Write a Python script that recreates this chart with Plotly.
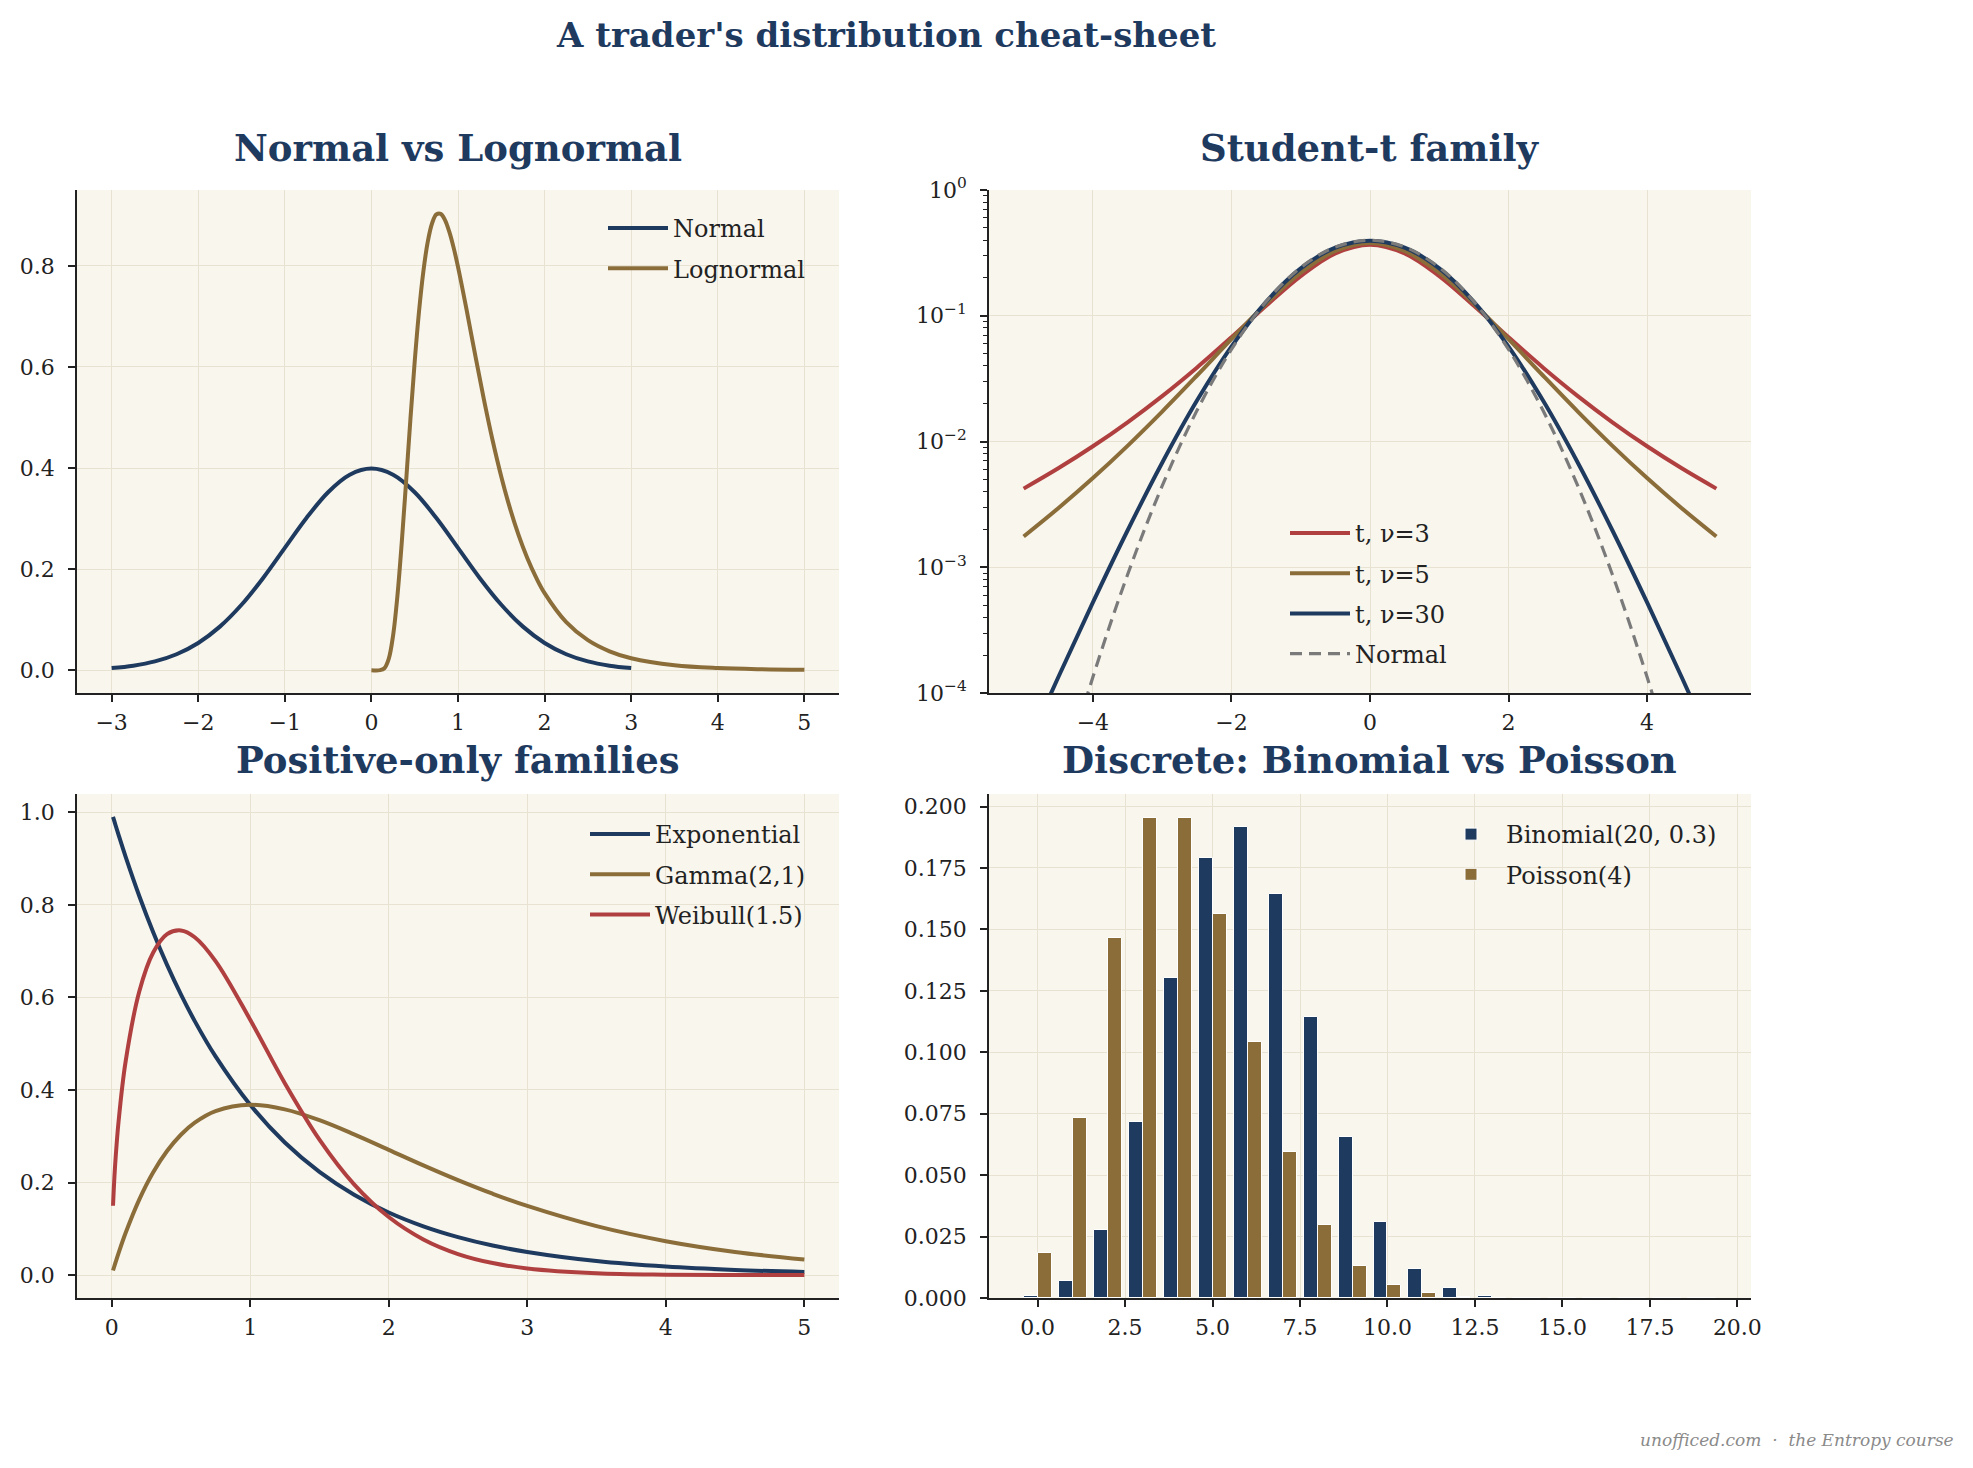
import plotly.graph_objects as go
from plotly.subplots import make_subplots

# ---------------- data ----------------
normal_x = [-3.0, -2.75, -2.5, -2.25, -2.0, -1.75, -1.5, -1.25, -1.0, -0.75, -0.5, -0.25, 0.0,
            0.25, 0.5, 0.75, 1.0, 1.25, 1.5, 1.75, 2.0, 2.25, 2.5, 2.75, 3.0]
normal_y = [0.0044, 0.0091, 0.0175, 0.0317, 0.0540, 0.0863, 0.1295, 0.1826, 0.2420, 0.3011, 0.3521, 0.3867, 0.3989,
            0.3867, 0.3521, 0.3011, 0.2420, 0.1826, 0.1295, 0.0863, 0.0540, 0.0317, 0.0175, 0.0091, 0.0044]

lognorm_x = [0.0, 0.1, 0.15, 0.2, 0.25, 0.3, 0.35, 0.4, 0.45, 0.5, 0.55, 0.6, 0.65, 0.7, 0.75, 0.8, 0.85, 0.9,
             0.95, 1.0, 1.1, 1.2, 1.3, 1.4, 1.5, 1.6, 1.7, 1.8, 1.9, 2.0, 2.25, 2.5, 2.75, 3.0, 3.5, 4.0, 4.5, 5.0]
lognorm_y = [0.0, 0.0002, 0.0040, 0.0225, 0.0684, 0.1465, 0.2517, 0.3720, 0.4954, 0.6104, 0.7099, 0.7890, 0.8469,
             0.8838, 0.9016, 0.9028, 0.8904, 0.8670, 0.8355, 0.7979, 0.7123, 0.6222, 0.5349, 0.4545, 0.3829, 0.3206,
             0.2673, 0.2221, 0.1842, 0.1526, 0.0952, 0.0595, 0.0375, 0.0238, 0.0099, 0.0043, 0.0019, 0.0009]

t_x = [-5.0, -4.5, -4.0, -3.5, -3.0, -2.5, -2.0, -1.5, -1.0, -0.5, 0.0,
       0.5, 1.0, 1.5, 2.0, 2.5, 3.0, 3.5, 4.0, 4.5, 5.0]
t3_y = [0.00422, 0.00612, 0.00916, 0.01422, 0.02297, 0.03866, 0.0675, 0.1200, 0.2067, 0.3132, 0.3676,
        0.3132, 0.2067, 0.1200, 0.0675, 0.03866, 0.02297, 0.01422, 0.00916, 0.00612, 0.00422]
t5_y = [0.001757, 0.002948, 0.00512, 0.00924, 0.01729, 0.03333, 0.0651, 0.1245, 0.2197, 0.3279, 0.3796,
        0.3279, 0.2197, 0.1245, 0.0651, 0.03333, 0.01729, 0.00924, 0.00512, 0.002948, 0.001757]
t30_y = [0.0000329, 0.0001334, 0.000525, 0.00196, 0.006778, 0.02106, 0.05685, 0.1290, 0.2380, 0.3479, 0.3956,
         0.3479, 0.2380, 0.1290, 0.05685, 0.02106, 0.006778, 0.00196, 0.000525, 0.0001334, 0.0000329]
tnorm_y = [0.000001487, 0.00001598, 0.0001338, 0.0008727, 0.004432, 0.01753, 0.0540, 0.1295, 0.2420, 0.3521, 0.3989,
           0.3521, 0.2420, 0.1295, 0.0540, 0.01753, 0.004432, 0.0008727, 0.0001338, 0.00001598, 0.000001487]

pos_x = [0.01, 0.02, 0.03, 0.05, 0.1, 0.2, 0.3, 0.4, 0.5, 0.6, 0.75, 1.0, 1.25, 1.5, 1.75, 2.0, 2.25, 2.5,
         2.75, 3.0, 3.5, 4.0, 4.5, 5.0]
expo_y = [0.9900, 0.9802, 0.9704, 0.9512, 0.9048, 0.8187, 0.7408, 0.6703, 0.6065, 0.5488, 0.4724, 0.3679, 0.2865,
          0.2231, 0.1738, 0.1353, 0.1054, 0.0821, 0.0639, 0.0498, 0.0302, 0.0183, 0.0111, 0.0067]
gamma_y = [0.0099, 0.0196, 0.0291, 0.0476, 0.0905, 0.1637, 0.2222, 0.2681, 0.3033, 0.3293, 0.3543, 0.3679, 0.3581,
           0.3347, 0.3041, 0.2707, 0.2371, 0.2052, 0.1758, 0.1494, 0.1057, 0.0733, 0.0500, 0.0337]
weib_y = [0.1499, 0.2115, 0.2585, 0.3317, 0.4596, 0.6134, 0.6971, 0.7367, 0.7448, 0.7300, 0.6785, 0.5518, 0.4146,
          0.2927, 0.1960, 0.1254, 0.0770, 0.0455, 0.0260, 0.0144, 0.0040, 0.0010, 0.0002, 0.00005]

k_vals = list(range(20))
binom_p = [0.0008, 0.0068, 0.0278, 0.0716, 0.1304, 0.1789, 0.1916, 0.1643, 0.1144, 0.0654, 0.0308, 0.0120,
           0.0039, 0.0010, 0.0002, 0.00004, 0.000005, 0.0000005, 0.00000004, 0.000000002]
pois_p = [0.0183, 0.0733, 0.1465, 0.1954, 0.1954, 0.1563, 0.1042, 0.0595, 0.0298, 0.0132, 0.0053, 0.0019,
          0.0006, 0.0002, 0.00006, 0.000015, 0.000004, 0.0000009, 0.0000002, 0.00000004]

log_tickvals = [1e-4, 1e-3, 1e-2, 1e-1, 1]
log_ticktext = ["10<sup>−4</sup>", "10<sup>−3</sup>", "10<sup>−2</sup>", "10<sup>−1</sup>", "10<sup>0</sup>"]

# ---------------- styling ----------------
NAVY = "#1f3a5f"
BROWN = "#8b6d3a"
RED = "#b04040"
GRAY = "#7a7a7a"
BG = "#f9f6ee"
GRID = "#e7e2d2"
INK = "#222222"
FONT = "DejaVu Serif"
W, H = 1973, 1468
LW = 4.0

fig = make_subplots(rows=2, cols=2)

line_kw = dict(mode="lines", line_shape="spline")


def add_line(x, y, name, color, leg, row, col, dash="solid", width=LW):
    fig.add_trace(go.Scatter(x=x, y=y, name=name, line=dict(color=color, width=width, dash=dash),
                             legend=leg, legendgroup=leg + name, **line_kw), row=row, col=col)


add_line(normal_x, normal_y, "Normal", NAVY, "legend", 1, 1)
add_line(lognorm_x, lognorm_y, "Lognormal", BROWN, "legend", 1, 1)

add_line(t_x, t3_y, "t, ν=3", RED, "legend2", 1, 2)
add_line(t_x, t5_y, "t, ν=5", BROWN, "legend2", 1, 2)
add_line(t_x, t30_y, "t, ν=30", NAVY, "legend2", 1, 2)
add_line(t_x, tnorm_y, "Normal", GRAY, "legend2", 1, 2, dash="12px,7px", width=3.2)

add_line(pos_x, expo_y, "Exponential", NAVY, "legend3", 2, 1)
add_line(pos_x, gamma_y, "Gamma(2,1)", BROWN, "legend3", 2, 1)
add_line(pos_x, weib_y, "Weibull(1.5)", RED, "legend3", 2, 1)

fig.add_trace(go.Bar(x=k_vals, y=binom_p, name="Binomial(20, 0.3)", width=0.4, offset=-0.4,
                     marker=dict(color=NAVY, line=dict(color="white", width=1)),
                     legend="legend4", legendgroup="b"), row=2, col=2)
fig.add_trace(go.Bar(x=k_vals, y=pois_p, name="Poisson(4)", width=0.4, offset=0.0,
                     marker=dict(color=BROWN, line=dict(color="white", width=1)),
                     legend="legend4", legendgroup="p"), row=2, col=2)

axis_common = dict(showline=True, linecolor=INK, linewidth=1.8, ticks="outside", ticklen=7, tickwidth=1.6,
                   tickcolor=INK, showgrid=True, gridcolor=GRID, gridwidth=1, zeroline=False, mirror=False,
                   tickfont=dict(family=FONT, size=22, color=INK), automargin=False)
xax = dict(ticklabelstandoff=2, **axis_common)
yax = dict(ticklabelstandoff=9, **axis_common)

xl = [77 / W, 839 / W]
xr = [989 / W, 1751 / W]
yt = [1 - 693 / H, 1 - 190 / H]
yb = [1 - 1298 / H, 1 - 794 / H]

fig.update_layout(
    xaxis=dict(domain=xl, range=[-3.4, 5.4], dtick=1, **xax),
    yaxis=dict(domain=yt, range=[-0.045, 0.95], tickvals=[0, 0.2, 0.4, 0.6, 0.8], tickformat=".1f", **yax),
    xaxis2=dict(domain=xr, range=[-5.5, 5.5], tickvals=[-4, -2, 0, 2, 4], **xax),
    yaxis2=dict(domain=yt, type="log", range=[-4, 0], tickvals=log_tickvals, ticktext=log_ticktext,
                minor=dict(ticks="outside", ticklen=4, tickwidth=1.2, tickcolor=INK, dtick="D1", showgrid=False),
                **yax),
    xaxis3=dict(domain=xl, range=[-0.25, 5.25], dtick=1, **xax),
    yaxis3=dict(domain=yb, range=[-0.0495, 1.0395], tickvals=[0, 0.2, 0.4, 0.6, 0.8, 1.0], tickformat=".1f",
                **yax),
    xaxis4=dict(domain=xr, range=[-1.39, 20.39], tickvals=[0, 2.5, 5, 7.5, 10, 12.5, 15, 17.5, 20],
                tickformat=".1f", **xax),
    yaxis4=dict(domain=yb, range=[0, 0.2051], dtick=0.025, tickformat=".3f", **yax),
)

legend_common = dict(bgcolor="rgba(0,0,0,0)", font=dict(family=FONT, size=24, color=INK),
                     xanchor="left", yanchor="top", tracegroupgap=6, itemwidth=60)
fig.update_layout(
    legend=dict(x=603 / W, y=1 - 206 / H, **legend_common),
    legend2=dict(x=1285 / W, y=1 - 511 / H, **legend_common),
    legend3=dict(x=585 / W, y=1 - 812 / H, **legend_common),
    legend4=dict(x=1436 / W, y=1 - 812 / H, **legend_common),
)

title_font = dict(family=FONT, size=37, color=NAVY)
annotations = [
    dict(text="<b>A trader's distribution cheat-sheet</b>", x=886 / W, y=1 - 35 / H,
         font=dict(family=FONT, size=34, color=NAVY)),
    dict(text="<b>Normal vs Lognormal</b>", x=(xl[0] + xl[1]) / 2, y=1 - 148 / H, font=title_font),
    dict(text="<b>Student-t family</b>", x=(xr[0] + xr[1]) / 2, y=1 - 148 / H, font=title_font),
    dict(text="<b>Positive-only families</b>", x=(xl[0] + xl[1]) / 2, y=1 - 760 / H, font=title_font),
    dict(text="<b>Discrete: Binomial vs Poisson</b>", x=(xr[0] + xr[1]) / 2, y=1 - 760 / H, font=title_font),
]
for a in annotations:
    a.update(xref="paper", yref="paper", xanchor="center", yanchor="middle", showarrow=False, borderpad=0)
annotations.append(dict(text="<i>unofficed.com  ·  the Entropy course</i>", x=1956 / W, y=1 - 1440 / H,
                        xref="paper", yref="paper", xanchor="right", yanchor="middle", showarrow=False,
                        font=dict(family=FONT, size=17, color="#8a8a8a")))

fig.update_layout(
    width=W, height=H, margin=dict(l=0, r=0, t=0, b=0),
    paper_bgcolor="white", plot_bgcolor=BG,
    barmode="overlay", bargap=0,
    annotations=annotations,
    font=dict(family=FONT, color=INK),
)

fig.write_html("out.html")
